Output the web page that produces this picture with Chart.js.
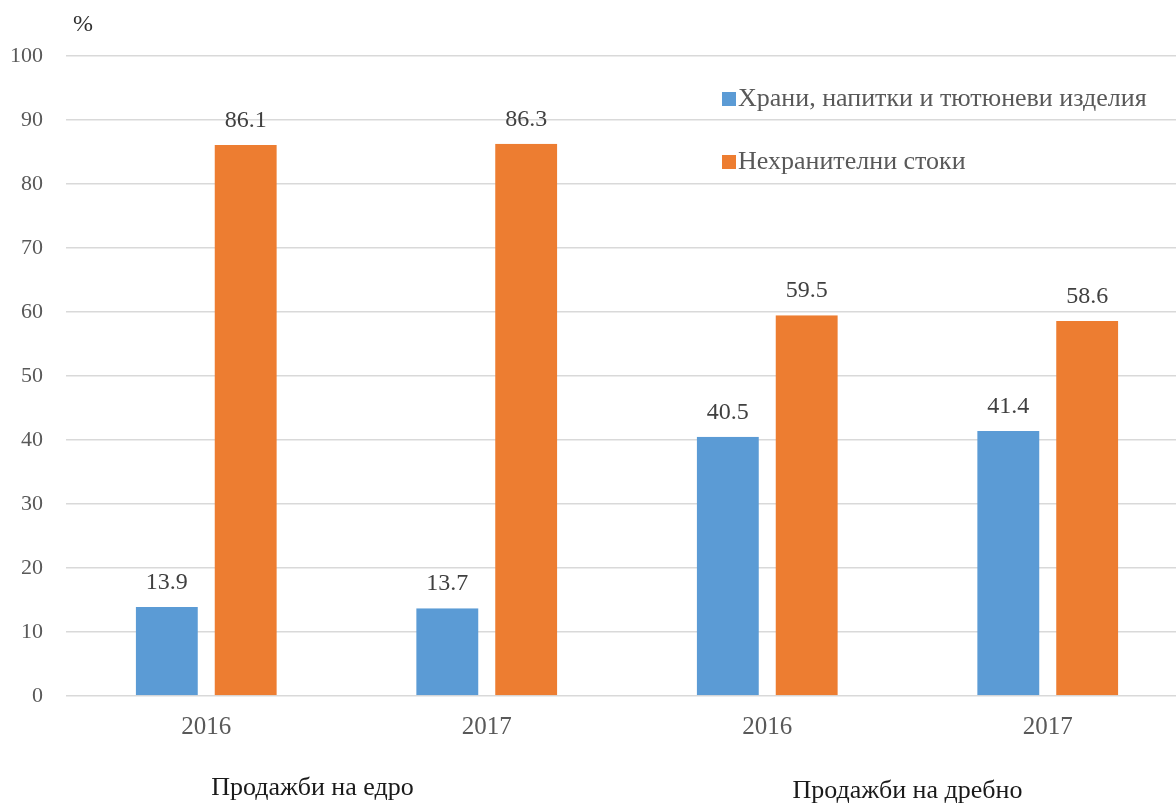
<!DOCTYPE html>
<html>
<head>
<meta charset="utf-8">
<script src="https://cdn.jsdelivr.net/npm/chart.js@4"></script>
<style>
html,body{margin:0;padding:0;background:#fff;overflow:hidden;}
#wrap{position:relative;width:1190px;height:803px;}
</style>
</head>
<body>
<div id="wrap"><canvas id="c" width="1190" height="803"></canvas></div>
<script>
const years = ["2016", "2017", "2016", "2017"];
const groups = ["Продажби на едро", "Продажби на дребно"];
const seriesNames = ["Храни, напитки и тютюневи изделия", "Нехранителни стоки"];
const food = [13.9, 13.7, 40.5, 41.4];
const nonFood = [86.1, 86.3, 59.5, 58.6];
const yTicks = [0, 10, 20, 30, 40, 50, 60, 70, 80, 90, 100];

const FONT = '"Liberation Serif", "Times New Roman", serif';
const BLUE = '#5B9BD5', ORANGE = '#ED7D31';
const GAP = 8.5;

const extras = {
  id: 'extras',
  afterDatasetsDraw(chart) {
    const ctx = chart.ctx;
    ctx.save();
    // value labels
    ctx.font = '24px ' + FONT;
    ctx.fillStyle = '#404040';
    ctx.textAlign = 'center';
    ctx.textBaseline = 'alphabetic';
    chart.data.datasets.forEach((ds, di) => {
      const meta = chart.getDatasetMeta(di);
      const bw = ds.borderWidth;
      meta.data.forEach((el, i) => {
        const cx = el.x + ((bw.left || 0) - (bw.right || 0)) / 2;
        ctx.fillText(ds.data[i].toFixed(1), cx, el.y - 18);
      });
    });
    // group labels
    const xs = chart.scales.x;
    ctx.fillStyle = '#1a1a1a';
    ctx.font = '26px ' + FONT;
    const g0 = (xs.getPixelForValue(0) + xs.getPixelForValue(1)) / 2 - 34;
    const g1 = (xs.getPixelForValue(2) + xs.getPixelForValue(3)) / 2;
    ctx.fillText(groups[0], g0, 795);
    ctx.fillText(groups[1], g1, 798);
    // percent sign
    ctx.font = '24px ' + FONT;
    ctx.fillStyle = '#303030';
    ctx.textAlign = 'left';
    ctx.fillText('%', 73, 31);
    // legend
    const colors = [BLUE, ORANGE];
    const ly = [99, 162];
    ctx.font = '26px ' + FONT;
    ctx.textBaseline = 'middle';
    seriesNames.forEach((n, i) => {
      ctx.fillStyle = colors[i];
      ctx.fillRect(722, ly[i] - 7, 14, 14);
      ctx.fillStyle = '#595959';
      ctx.fillText(n, 738, ly[i]);
    });
    ctx.restore();
  }
};

new Chart(document.getElementById('c'), {
  type: 'bar',
  data: {
    labels: years,
    datasets: [
      { label: seriesNames[0], data: food, backgroundColor: BLUE,
        borderColor: 'rgba(0,0,0,0)', borderWidth: {left: 0, right: GAP, top: 0, bottom: 0},
        borderSkipped: false, categoryPercentage: 0.503, barPercentage: 1.0 },
      { label: seriesNames[1], data: nonFood, backgroundColor: ORANGE,
        borderColor: 'rgba(0,0,0,0)', borderWidth: {left: GAP, right: 0, top: 0, bottom: 0},
        borderSkipped: false, categoryPercentage: 0.503, barPercentage: 1.0 }
    ]
  },
  options: {
    responsive: false,
    animation: false,
    events: [],
    layout: { padding: { left: 0, right: 2, top: 56, bottom: 0 } },
    plugins: { legend: { display: false }, tooltip: { enabled: false } },
    scales: {
      x: {
        grid: { display: false, drawTicks: false },
        border: { display: false },
        ticks: { font: { family: FONT, size: 25 }, color: '#595959', padding: 16 },
        afterFit(s) { s.height = 107; }
      },
      y: {
        min: 0, max: 100,
        afterBuildTicks(s) { s.ticks = yTicks.map(v => ({ value: v })); },
        grid: { color: '#d9d9d9', lineWidth: 1.5, drawTicks: false },
        border: { display: false },
        ticks: { font: { family: FONT, size: 22 }, color: '#595959', padding: 23 },
        afterFit(s) { s.width = 66; }
      }
    }
  },
  plugins: [extras]
});
</script>
</body>
</html>
